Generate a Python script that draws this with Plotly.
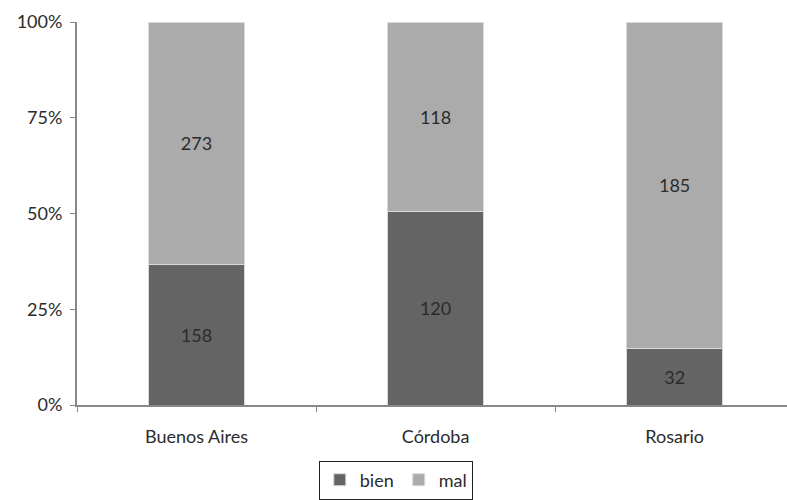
import plotly.graph_objects as go

cities = ["Buenos Aires", "Córdoba", "Rosario"]
bien = [158, 120, 32]
mal = [273, 118, 185]
y_ticks = [0, 25, 50, 75, 100]
y_labels = [f"{v}%" for v in y_ticks]

FONT = "Lato, 'Open Sans', sans-serif"
TXT = "#2b2b2b"
SIZE = 18

fig = go.Figure()
for name, vals, col in [("bien", bien, "#646464"), ("mal", mal, "#ababab")]:
    fig.add_trace(go.Bar(
        name=name, x=cities, y=vals,
        text=[str(v) for v in vals], textposition="inside",
        insidetextanchor="middle", textangle=0,
        textfont=dict(family=FONT, size=SIZE, color=TXT),
        marker=dict(color=col, line=dict(color="#d9d9d9", width=1)),
        width=0.40,
    ))

fig.update_layout(
    barmode="stack", barnorm="percent",
    width=787, height=500,
    margin=dict(l=77, r=0, t=22, b=95),
    plot_bgcolor="white", paper_bgcolor="white",
    font=dict(family=FONT, size=SIZE, color=TXT),
    showlegend=True,
    legend=dict(
        orientation="h", x=0.449, xanchor="center", y=-0.145, yanchor="top",
        bordercolor="#222222", borderwidth=1, traceorder="normal",
        font=dict(family=FONT, size=SIZE, color=TXT),
        itemwidth=30,
    ),
)
fig.update_xaxes(
    range=[-0.5, 2.47], showline=True, linecolor="#888888", linewidth=2,
    ticks="outside", tickson="boundaries", ticklen=5, tickcolor="#888888",
    ticklabelstandoff=14,
    tickfont=dict(family=FONT, size=SIZE, color=TXT), showgrid=False,
)
fig.update_yaxes(
    range=[0, 100], tickmode="array", tickvals=y_ticks, ticktext=y_labels,
    showline=True, linecolor="#888888", linewidth=2,
    ticks="outside", ticklen=5, tickcolor="#888888",
    ticklabelstandoff=4,
    tickfont=dict(family=FONT, size=SIZE, color=TXT), showgrid=False,
    zeroline=False,
)

fig.write_html("out.html")
